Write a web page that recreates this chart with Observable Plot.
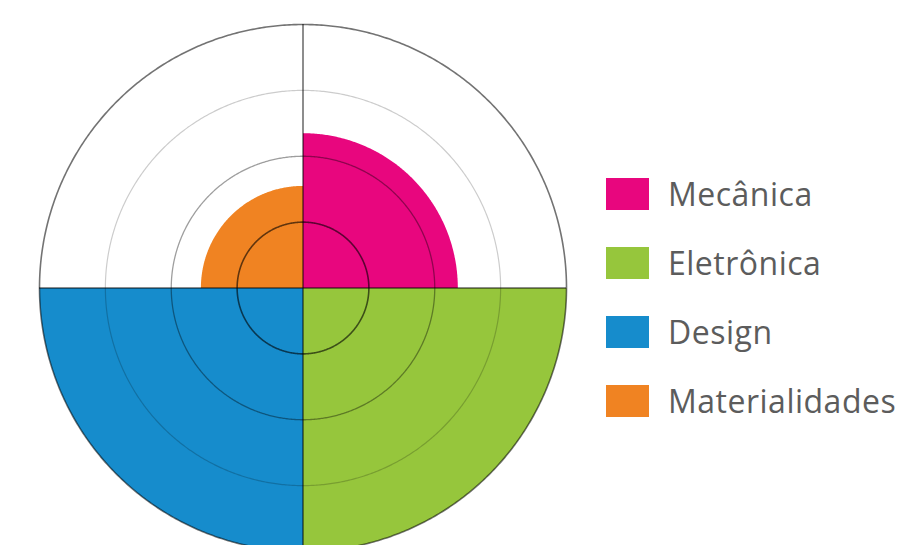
<!DOCTYPE html>
<html>
<head>
<meta charset="utf-8">
<script src="https://cdn.jsdelivr.net/npm/d3@7"></script>
<script src="https://cdn.jsdelivr.net/npm/@observablehq/plot@0.6"></script>
<style>
  html, body { margin: 0; padding: 0; background: #fff; overflow: hidden; }
  #wrap { position: relative; width: 904px; height: 545px; }
  #legend { position: absolute; left: 606px; top: 178px; font-family: "Open Sans", sans-serif; }
  .item { display: flex; align-items: center; height: 32px; margin-bottom: 37px; }
  .sw { width: 43px; height: 32px; margin-right: 19px; }
  .lab { font-size: 32px; line-height: 32px; color: #5c5c5c; letter-spacing: 0.5px; white-space: nowrap; }
</style>
</head>
<body>
<div id="wrap"><div id="legend"></div></div>
<script>
// Data
const categories = ["Mecânica", "Eletrônica", "Design", "Materialidades"];
const values = [2.35, 4, 4, 1.55];
const rings = [1, 2, 3, 4];
const colors = ["#e8067e", "#96c63c", "#168ccc", "#f08322"];

// Geometry helpers (angles clockwise from north, one quadrant per category)
const maxV = 4;
const step = 0.5;
const wedgePts = [];
categories.forEach((c, i) => {
  const a0 = i * 90, a1 = (i + 1) * 90;
  wedgePts.push({cat: c, x: 0, y: 0});
  for (let a = a0; a <= a1 + 1e-9; a += step) {
    const t = a * Math.PI / 180;
    wedgePts.push({cat: c, x: values[i] * Math.sin(t), y: values[i] * Math.cos(t)});
  }
  wedgePts.push({cat: c, x: 0, y: 0});
});

const ringPts = [];
rings.forEach(r => {
  for (let a = 0; a <= 360 + 1e-9; a += step) {
    const t = a * Math.PI / 180;
    ringPts.push({ring: r, x: r * Math.sin(t), y: r * Math.cos(t)});
  }
});
const ringOpacity = {1: 0.6, 2: 0.38, 3: 0.2, 4: 0.55};
const ringWidth = {1: 1.6, 2: 1.3, 3: 1.2, 4: 1.6};

const chart = Plot.plot({
  width: 904,
  height: 545,
  margin: 0,
  x: {domain: [-maxV, maxV], range: [39, 566], axis: null},
  y: {domain: [-maxV, maxV], range: [551, 24], axis: null},
  color: {domain: categories, range: colors},
  marks: [
    Plot.line(wedgePts, {x: "x", y: "y", z: "cat", fill: "cat", stroke: "none"}),
    ...rings.map(r => Plot.line(ringPts.filter(d => d.ring === r), {
      x: "x", y: "y", stroke: "#000", strokeOpacity: ringOpacity[r], strokeWidth: ringWidth[r]
    })),
    Plot.ruleX([0], {y1: -maxV, y2: maxV, stroke: "#000", strokeOpacity: 0.6, strokeWidth: 1.5}),
    Plot.ruleY([0], {x1: -maxV, x2: maxV, stroke: "#000", strokeOpacity: 0.6, strokeWidth: 1.5})
  ]
});
document.getElementById("wrap").prepend(chart);

const legend = d3.select("#legend");
categories.forEach((c, i) => {
  const it = legend.append("div").attr("class", "item");
  it.append("div").attr("class", "sw").style("background", colors[i]);
  it.append("div").attr("class", "lab").text(c);
});
</script>
</body>
</html>
